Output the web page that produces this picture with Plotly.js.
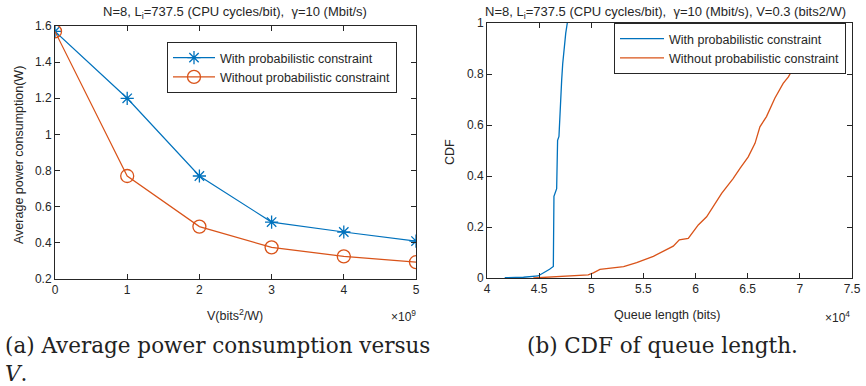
<!DOCTYPE html>
<html><head><meta charset="utf-8">
<script src="https://cdn.plot.ly/plotly-3.0.1.min.js"></script>
<style>html,body{margin:0;padding:0;background:#fff}#plot{width:866px;height:386px}</style>
</head><body><div id="plot"></div>
<script>
// Left panel: average power vs V (x in units of 1e9)
const V = [0, 1, 2, 3, 4, 5];
const powerWith = [1.57, 1.20, 0.77, 0.515, 0.46, 0.41];
const powerWithout = [1.57, 0.77, 0.49, 0.375, 0.325, 0.293];
// Right panel: CDF of queue length (x in units of 1e4)
const qWith = [4.17, 4.35, 4.49, 4.556, 4.60, 4.636, 4.642, 4.668, 4.677, 4.69, 4.70, 4.716, 4.726, 4.738, 4.755, 4.77];
const cdfWith = [0.001, 0.003, 0.008, 0.022, 0.034, 0.045, 0.32, 0.35, 0.54, 0.555, 0.67, 0.776, 0.84, 0.905, 0.96, 1.0];
const qWithout = [4.444, 4.796, 4.97, 5.02, 5.083, 5.31, 5.435, 5.595, 5.72, 5.786, 5.844, 5.93, 6.026, 6.106, 6.25, 6.36, 6.426, 6.505, 6.57, 6.617, 6.68, 6.76, 6.84, 6.89, 6.953, 7.05, 7.15, 7.25, 7.38];
const cdfWithout = [0, 0.008, 0.012, 0.02, 0.034, 0.045, 0.06, 0.085, 0.11, 0.125, 0.15, 0.155, 0.208, 0.24, 0.332, 0.39, 0.43, 0.475, 0.528, 0.593, 0.633, 0.705, 0.763, 0.789, 0.835, 0.88, 0.92, 0.96, 1.0];
const names = ['With probabilistic constraint', 'Without probabilistic constraint'];

const BLUE = '#0072BD', ORANGE = '#D95319', AX = '#262626';
const W = 866, H = 386;
const px = x => x / W, py = y => 1 - y / H;
const FAM = 'Liberation Sans, Arial, sans-serif';

const traces = [
  {x: V, y: powerWith, type: 'scatter', mode: 'lines+markers', name: names[0],
   line: {color: BLUE, width: 1.2}, marker: {symbol: 'asterisk-open', size: 11, color: BLUE, line: {color: BLUE, width: 1.3}},
   xaxis: 'x', yaxis: 'y', legend: 'legend'},
  {x: V, y: powerWithout, type: 'scatter', mode: 'lines+markers', name: names[1],
   line: {color: ORANGE, width: 1.2}, marker: {symbol: 'circle-open', size: 13, color: ORANGE, line: {color: ORANGE, width: 1.3}},
   xaxis: 'x', yaxis: 'y', legend: 'legend'},
  {x: qWith, y: cdfWith, type: 'scatter', mode: 'lines', name: names[0],
   line: {color: BLUE, width: 1.3}, xaxis: 'x2', yaxis: 'y2', legend: 'legend2'},
  {x: qWithout, y: cdfWithout, type: 'scatter', mode: 'lines', name: names[1],
   line: {color: ORANGE, width: 1.3}, xaxis: 'x2', yaxis: 'y2', legend: 'legend2'}
];

const axBase = {showgrid: false, zeroline: false, showline: true, mirror: 'ticks', linecolor: AX, linewidth: 1,
  ticks: 'inside', ticklen: 5, tickcolor: AX, tickfont: {family: FAM, size: 12, color: AX}};

const font = {family: FAM, size: 12.5, color: AX};
const ann = (text, x, y, opts) => Object.assign({text, x: px(x), y: py(y), xref: 'paper', yref: 'paper', showarrow: false,
  xanchor: 'center', yanchor: 'middle', font: Object.assign({}, font)}, opts || {});
const serif = {family: 'DejaVu Serif', size: 21.5, color: '#222'};

const layout = {
  width: W, height: H, margin: {l: 0, r: 0, t: 0, b: 0}, paper_bgcolor: '#fff', plot_bgcolor: '#fff',
  showlegend: true,
  xaxis: Object.assign({}, axBase, {domain: [px(55), px(416)], range: [0, 5], tickvals: [0,1,2,3,4,5], anchor: 'y'}),
  yaxis: Object.assign({}, axBase, {domain: [py(279), py(26)], range: [0.2, 1.6], tickvals: [0.2,0.4,0.6,0.8,1,1.2,1.4,1.6], anchor: 'x'}),
  xaxis2: Object.assign({}, axBase, {domain: [px(487), px(852)], range: [4, 7.5], tickvals: [4,4.5,5,5.5,6,6.5,7,7.5], anchor: 'y2'}),
  yaxis2: Object.assign({}, axBase, {domain: [py(278), py(23)], range: [0, 1], tickvals: [0,0.2,0.4,0.6,0.8,1], anchor: 'x2'}),
  legend: {x: px(167), y: py(42), xanchor: 'left', yanchor: 'top', bgcolor: '#fff', bordercolor: AX, borderwidth: 1,
    font: {family: FAM, size: 12.5, color: AX}, tracegroupgap: 0, itemwidth: 42},
  legend2: {x: px(614), y: py(23), xanchor: 'left', yanchor: 'top', bgcolor: '#fff', bordercolor: AX, borderwidth: 1,
    font: {family: FAM, size: 12.5, color: AX}, tracegroupgap: 0, itemwidth: 44},
  annotations: [
    ann('N=8, L<sub>i</sub>=737.5 (CPU cycles/bit),  γ=10 (Mbit/s)', 235, 12, {font: {family: FAM, size: 13, color: AX}}),
    ann('N=8, L<sub>i</sub>=737.5 (CPU cycles/bit),  γ=10 (Mbit/s), V=0.3 (bits2/W)', 665, 12, {font: {family: FAM, size: 13, color: AX}}),
    ann('V(bits<sup>2</sup>/W)', 235, 315),
    ann('×10<sup>9</sup>', 418, 316, {xanchor: 'right', font: {family: FAM, size: 12, color: AX}}),
    ann('Average power consumption(W)', 19, 155, {textangle: -90}),
    ann('Queue length (bits)', 667, 315),
    ann('×10<sup>4</sup>', 852, 317, {xanchor: 'right', font: {family: FAM, size: 12, color: AX}}),
    ann('CDF', 450, 152, {textangle: -90}),
    ann('(a) Average power consumption versus', 3, 345, {xanchor: 'left', font: serif}),
    ann('<i>V</i>.', 3, 373, {xanchor: 'left', font: serif}),
    ann('(b) CDF of queue length.', 662, 345, {font: serif})
  ]
};

Plotly.newPlot('plot', traces, layout, {displayModeBar: false});
</script></body></html>
